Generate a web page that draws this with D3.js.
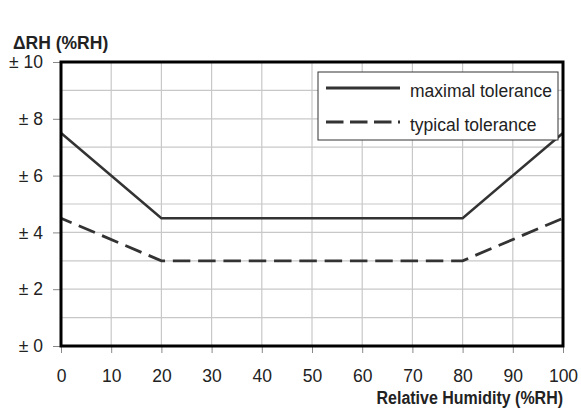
<!DOCTYPE html>
<html>
<head>
<meta charset="utf-8">
<title>RH tolerance</title>
<style>
  body { margin: 0; background: #fff; }
  text { font-family: "Liberation Sans", Arial, sans-serif; fill: #222; }
</style>
</head>
<body>
<script src="https://cdnjs.cloudflare.com/ajax/libs/d3/7.9.0/d3.min.js"></script>
<script>
const width = 581;
const height = 410;
const margin = {top: 62, right: 18, bottom: 64, left: 61};

// data
const humidity = [0, 20, 80, 100];
const maximal = [7.5, 4.5, 4.5, 7.5];
const typical = [4.5, 3, 3, 4.5];
const xTicks = [0, 10, 20, 30, 40, 50, 60, 70, 80, 90, 100];
const yTicks = [0, 2, 4, 6, 8, 10];
const yGrid = [1, 2, 3, 4, 5, 6, 7, 8, 9];
const seriesNames = ["maximal tolerance", "typical tolerance"];

const svg = d3.select("body").append("svg")
  .attr("width", width)
  .attr("height", height);

const x = d3.scaleLinear().domain([0, 100]).range([margin.left, width - margin.right]);
const y = d3.scaleLinear().domain([0, 10]).range([height - margin.bottom, margin.top]);

// grid
svg.append("g").selectAll("line")
  .data(xTicks.slice(1, -1))
  .enter().append("line")
  .attr("x1", d => x(d)).attr("x2", d => x(d))
  .attr("y1", y(0)).attr("y2", y(10))
  .attr("stroke", "#c8c8c8").attr("stroke-width", 1.2);

svg.append("g").selectAll("line")
  .data(yGrid)
  .enter().append("line")
  .attr("x1", x(0)).attr("x2", x(100))
  .attr("y1", d => y(d)).attr("y2", d => y(d))
  .attr("stroke", "#c8c8c8").attr("stroke-width", 1.2);

// axes
const xAxis = svg.append("g")
  .attr("transform", `translate(0,${y(0)})`)
  .call(d3.axisBottom(x).tickValues(xTicks).tickSize(7).tickPadding(17));
xAxis.select(".domain").remove();
xAxis.selectAll("line").attr("stroke", "#888");
xAxis.selectAll("text").attr("font-size", "17.5px").attr("fill", "#222");

const yAxis = svg.append("g")
  .attr("transform", `translate(${x(0)},0)`)
  .call(d3.axisLeft(y).tickValues(yTicks).tickSize(8).tickPadding(10)
    .tickFormat(d => "\u00b1 " + d));
yAxis.select(".domain").remove();
yAxis.selectAll("line").attr("stroke", "#888");
yAxis.selectAll("text").attr("font-size", "17.5px").attr("fill", "#222");

// lines
const line = d3.line()
  .x((d, i) => x(humidity[i]))
  .y(d => y(d));

svg.append("path")
  .datum(maximal)
  .attr("d", line)
  .attr("fill", "none")
  .attr("stroke", "#333")
  .attr("stroke-width", 2.5);

svg.append("path")
  .datum(typical)
  .attr("d", line)
  .attr("fill", "none")
  .attr("stroke", "#333")
  .attr("stroke-width", 2.8)
  .attr("stroke-dasharray", "17.5,7.8")
  .attr("stroke-dashoffset", 6);

// frame
svg.append("rect")
  .attr("x", x(0)).attr("y", y(10))
  .attr("width", x(100) - x(0)).attr("height", y(0) - y(10))
  .attr("fill", "none").attr("stroke", "#000").attr("stroke-width", 3);

// legend
const legend = svg.append("g").attr("transform", "translate(318,72)");
legend.append("rect")
  .attr("width", 240).attr("height", 68)
  .attr("fill", "#fff").attr("stroke", "#333").attr("stroke-width", 1);
seriesNames.forEach((name, i) => {
  const ly = 16 + i * 34;
  legend.append("line")
    .attr("x1", 8).attr("x2", 82)
    .attr("y1", ly).attr("y2", ly)
    .attr("stroke", "#333").attr("stroke-width", 2.8)
    .attr("stroke-dasharray", i === 1 ? "17.5,6.5" : null);
  legend.append("text")
    .attr("x", 92).attr("y", ly + 8.5)
    .attr("font-size", "17.5px")
    .text(name);
});

// axis titles
svg.append("text")
  .attr("x", 13).attr("y", 49)
  .attr("font-size", "17.5px").attr("font-weight", "bold")
  .text("\u0394RH (%RH)");

svg.append("g")
  .attr("transform", `translate(${x(100)},404) scale(1,1.1)`)
  .append("text")
  .attr("text-anchor", "end")
  .attr("font-size", "16px").attr("font-weight", "bold")
  .text("Relative Humidity (%RH)");
</script>
</body>
</html>
